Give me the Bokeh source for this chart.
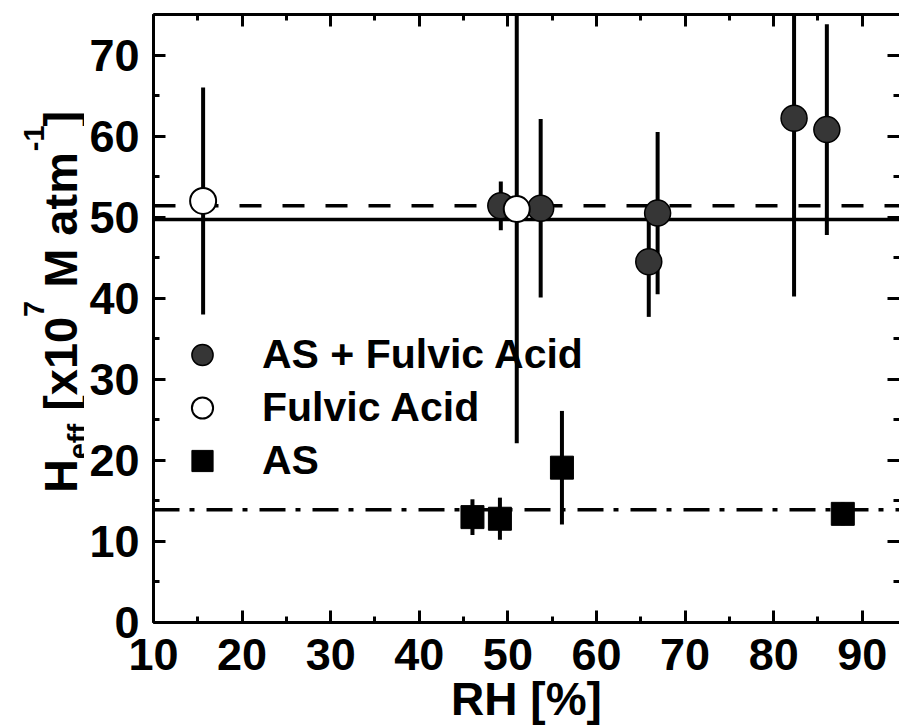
import math
from bokeh.plotting import figure
from bokeh.layouts import row
from bokeh.models import (Range1d, LinearAxis, SingleIntervalTicker, Span, Label,
                          Legend, LegendItem, ColumnDataSource)
from bokeh.embed import file_html
from bokeh.resources import INLINE

# ---------------- data ----------------
asfa_rh = [49.2, 53.7, 65.9, 66.9, 82.3, 86.0]
asfa_h = [51.4, 51.1, 44.5, 50.5, 62.2, 60.8]
asfa_err = [3.0, 11.0, 6.8, 10.0, 22.0, 13.0]

fa_rh = [15.6, 51.0]
fa_h = [52.0, 51.0]
fa_err = [14.0, 28.9]

as_rh = [46.0, 49.1, 56.1, 87.8]
as_h = [13.0, 12.8, 19.1, 13.4]
as_err = [2.2, 2.6, 7.0, 1.4]

mean_solid = 49.7      # solid line
mean_dashed = 51.4     # dashed line
mean_dashdot = 13.9    # dash-dot line

legend_labels = ["AS + Fulvic Acid", "Fulvic Acid", "AS"]
x_label = "RH [%]"

FONT = "Liberation Sans"

def src(x, y, e):
    return ColumnDataSource(dict(x=x, y=y, lo=[a - b for a, b in zip(y, e)],
                                 hi=[a + b for a, b in zip(y, e)]))

s_asfa = src(asfa_rh, asfa_h, asfa_err)
s_fa = src(fa_rh, fa_h, fa_err)
s_as = src(as_rh, as_h, as_err)

LW = 84  # width of the strip that holds the y-axis title
TOP, BOTTOM = 14, 104

p = figure(width=899 - LW, height=727, x_range=Range1d(10, 94.2), y_range=Range1d(0, 75),
           output_backend="svg", toolbar_location=None,
           min_border_left=153 - LW, min_border_right=0, min_border_top=TOP,
           min_border_bottom=BOTTOM)
p.outline_line_color = None
p.xgrid.visible = False
p.ygrid.visible = False
p.background_fill_color = "white"
p.border_fill_color = "white"

def style_axis(ax, labels=True):
    ax.axis_line_width = 3
    ax.axis_line_color = "black"
    ax.major_tick_in = 12
    ax.major_tick_out = 0
    ax.minor_tick_in = 6
    ax.minor_tick_out = 0
    ax.major_tick_line_width = 3
    ax.minor_tick_line_width = 3
    ax.major_tick_line_color = "black"
    ax.minor_tick_line_color = "black"
    if labels:
        ax.major_label_text_font = FONT
        ax.major_label_text_font_size = "45px"
        ax.major_label_text_font_style = "bold"
        ax.major_label_text_color = "black"
    else:
        ax.major_label_text_font_size = "1px"
        ax.major_label_text_color = None
        ax.major_label_standoff = 0

p.xaxis.ticker = SingleIntervalTicker(interval=10, num_minor_ticks=2)
p.yaxis.ticker = SingleIntervalTicker(interval=10, num_minor_ticks=2)
style_axis(p.xaxis[0])
style_axis(p.yaxis[0])
p.xaxis.major_label_standoff = 16
p.yaxis.major_label_standoff = 14
p.xaxis.axis_label = x_label
p.xaxis.axis_label_text_font = FONT
p.xaxis.axis_label_text_font_size = "46px"
p.xaxis.axis_label_text_font_style = "bold"
p.xaxis.axis_label_text_color = "black"
p.xaxis.axis_label_standoff = 0

top = LinearAxis(ticker=SingleIntervalTicker(interval=10, num_minor_ticks=2))
style_axis(top, labels=False)
p.add_layout(top, "above")
right = LinearAxis(ticker=SingleIntervalTicker(interval=10, num_minor_ticks=2))
style_axis(right, labels=False)
right.axis_line_color = None
p.add_layout(right, "right")

# horizontal reference lines
p.add_layout(Span(location=mean_solid, dimension="width", line_color="black", line_width=3.5, level="underlay"))
p.add_layout(Span(location=mean_dashed, dimension="width", line_color="black", line_width=3.5,
                  line_dash="22 21", level="underlay"))
p.add_layout(Span(location=mean_dashdot, dimension="width", line_color="black", line_width=3.5,
                  line_dash="26 10 5 12", level="underlay"))

# error bars
for s in (s_asfa, s_fa, s_as):
    p.segment(x0="x", y0="lo", x1="x", y1="hi", source=s, line_color="black", line_width=4)

r_asfa = p.scatter("x", "y", source=s_asfa, marker="circle", size=26,
                   fill_color="#363636", line_color="black", line_width=1.5)
r_fa = p.scatter("x", "y", source=s_fa, marker="circle", size=26,
                 fill_color="white", line_color="black", line_width=2)
r_as = p.scatter("x", "y", source=s_as, marker="square", size=23,
                 fill_color="black", line_color="black", line_width=1)

legend = Legend(items=[LegendItem(label=legend_labels[0], renderers=[r_asfa]),
                       LegendItem(label=legend_labels[1], renderers=[r_fa]),
                       LegendItem(label=legend_labels[2], renderers=[r_as])],
                location=(19, 135), glyph_width=60, glyph_height=53, spacing=0,
                padding=0, margin=0, label_standoff=30,
                label_text_font=FONT, label_text_font_size="41px", label_text_font_style="bold",
                label_text_color="black",
                border_line_color=None, background_fill_alpha=0)
p.add_layout(legend, "center")

# ---------- y-axis title strip (pixel coordinates, y downward) ----------
lab = figure(width=LW, height=727, x_range=Range1d(0, LW), y_range=Range1d(727 - BOTTOM, TOP),
             output_backend="svg", toolbar_location=None, min_border_left=0, min_border_right=0,
             min_border_top=TOP, min_border_bottom=BOTTOM,
             x_axis_location=None, y_axis_location=None)
lab.outline_line_color = None
lab.grid.visible = False
lab.background_fill_color = "white"
lab.border_fill_color = "white"

ylabel_parts = [  # (text, size, baseline x, start y)
    ("H", 47, 60, 493.4),
    ("eff", 29, 78, 459.5),
    ("[x10", 47, 60, 411.0),
    ("7", 29, 33, 317.0),
    ("M atm", 47, 60, 287.8),
    ("-1", 29, 33, 151.0),
    ("]", 47, 60, 126.3),
]
for t, sz, cx, cy in ylabel_parts:
    lab.add_layout(Label(x=cx, y=cy, text=t, angle=math.pi / 2, text_font=FONT,
                         text_font_size=f"{sz}px", text_font_style="bold", text_align="left",
                         text_baseline="alphabetic", text_color="black"))

layout = row(lab, p, spacing=0)
open("out.html", "w").write(file_html(layout, INLINE))
